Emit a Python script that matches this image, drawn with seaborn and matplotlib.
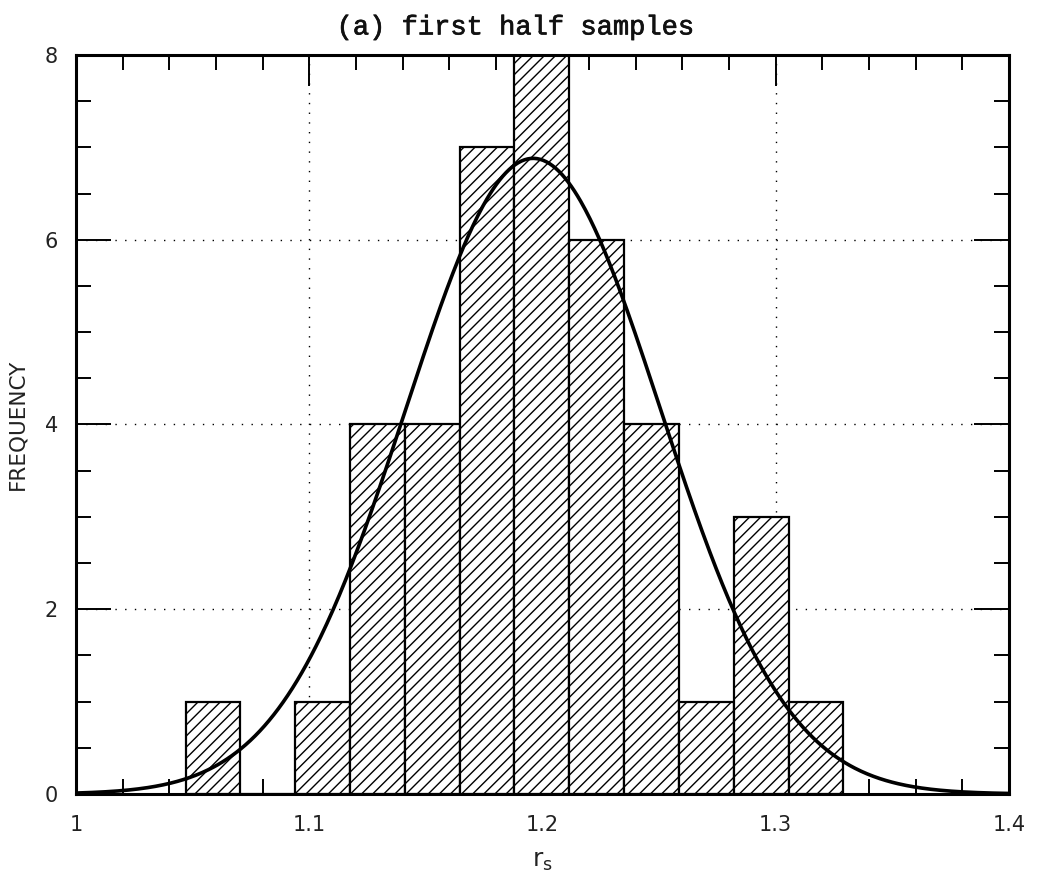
import numpy as np
import matplotlib
matplotlib.use("Agg")
import matplotlib.pyplot as plt
import matplotlib.patheffects as pe
from matplotlib.ticker import MultipleLocator, FixedLocator
import seaborn as sns

# ---- data ----
bin_edges = [1.047, 1.0705, 1.094, 1.1175, 1.141, 1.1645, 1.188, 1.2115,
             1.235, 1.2585, 1.282, 1.3055, 1.329]
counts = [1, 0, 1, 4, 4, 7, 8, 6, 4, 1, 3, 1]
# fitted normal curve parameters
fit_mean = 1.196
fit_sd = 0.0545
n_samples = sum(counts)
bin_width = 0.0235
x_ticks = [1.0, 1.1, 1.2, 1.3, 1.4]
x_ticklabels = ["1", "1.1", "1.2", "1.3", "1.4"]
y_ticks = [0, 2, 4, 6, 8]
y_ticklabels = ["0", "2", "4", "6", "8"]
title = "(a) first half samples"

sns.set_style("ticks")
plt.rcParams["font.family"] = ["DejaVu Sans"]
plt.rcParams["hatch.linewidth"] = 1.0

fig = plt.figure(figsize=(10.39, 8.85), dpi=100)
ax = fig.add_axes([0.0731, 0.1028, 0.9711 - 0.0731, 0.9379 - 0.1028])

centers = [(a + b) / 2 for a, b in zip(bin_edges[:-1], bin_edges[1:])]
sns.histplot(x=centers, weights=counts, bins=bin_edges, ax=ax,
             color="white", edgecolor="black", linewidth=1.6,
             alpha=1, hatch="///", zorder=2)

xs = np.linspace(1.0, 1.4, 600)
ys = n_samples * bin_width / (fit_sd * np.sqrt(2 * np.pi)) * np.exp(-0.5 * ((xs - fit_mean) / fit_sd) ** 2)
sns.lineplot(x=xs, y=ys, ax=ax, color="black", linewidth=2.6, zorder=3)

ax.set_xlim(1.0, 1.4)
ax.set_ylim(0, 8)
ax.xaxis.set_major_locator(FixedLocator(x_ticks))
ax.yaxis.set_major_locator(FixedLocator(y_ticks))
ax.set_xticklabels(x_ticklabels)
ax.set_yticklabels(y_ticklabels)
ax.xaxis.set_minor_locator(MultipleLocator(0.02))
ax.yaxis.set_minor_locator(MultipleLocator(0.5))

ax.tick_params(which="both", direction="in", top=True, right=True,
               color="black", width=1.4, labelsize=15, labelcolor="#222222")
ax.tick_params(axis="y", which="major", length=25, pad=13)
ax.tick_params(axis="x", which="major", length=22, pad=15)
ax.tick_params(which="minor", length=11)

ax.set_axisbelow(True)
ax.grid(True, which="major", color="black", linestyle=(0, (1, 6)), linewidth=1.0)

for s in ax.spines.values():
    s.set_linewidth(2.2)
    s.set_color("black")

ax.set_ylabel("FREQUENCY", fontsize=15.5, color="#222222", labelpad=12)
ax.set_xlabel(r"$\mathregular{r_s}$", fontsize=18, color="#222222", labelpad=10)
fig.text(0.496, 0.969, title, fontsize=19.5, ha="center", va="center",
         family=["Liberation Mono", "DejaVu Sans Mono"],
         color="#111111",
         path_effects=[pe.withStroke(linewidth=0.5, foreground="#111111")])

fig.savefig("out.png", dpi=100, facecolor="white")
